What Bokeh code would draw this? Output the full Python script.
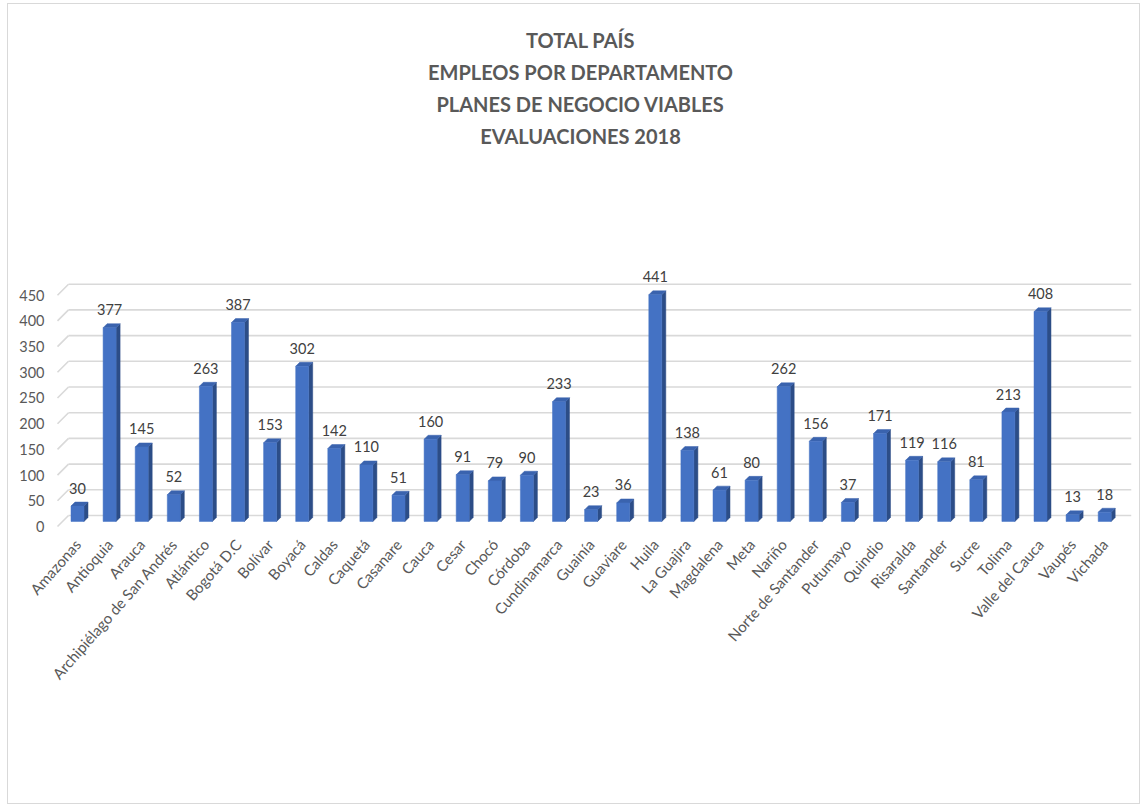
import math
from bokeh.plotting import figure
from bokeh.models import (ColumnDataSource, LinearAxis, FixedTicker, Range1d,
                          LabelSet, Title)
from bokeh.core.properties import value
from bokeh.embed import file_html
from bokeh.resources import INLINE

# ---------------- data ----------------
departments = [
    "Amazonas", "Antioquia", "Arauca", "Archipiélago de San Andrés", "Atlántico",
    "Bogotá D.C", "Bolívar", "Boyacá", "Caldas", "Caquetá", "Casanare", "Cauca",
    "Cesar", "Chocó", "Córdoba", "Cundinamarca", "Guainía", "Guaviare", "Huila",
    "La Guajira", "Magdalena", "Meta", "Nariño", "Norte de Santander", "Putumayo",
    "Quindio", "Risaralda", "Santander", "Sucre", "Tolima", "Valle del Cauca",
    "Vaupés", "Vichada",
]
employees = [30, 377, 145, 52, 263, 387, 153, 302, 142, 110, 51, 160, 91, 79, 90,
             233, 23, 36, 441, 138, 61, 80, 262, 156, 37, 171, 119, 116, 81, 213,
             408, 13, 18]
y_ticks = [0, 50, 100, 150, 200, 250, 300, 350, 400, 450]
title_lines = ["TOTAL PAÍS", "EMPLEOS POR DEPARTAMENTO",
               "PLANES DE NEGOCIO VIABLES", "EVALUACIONES 2018"]

# ---------------- geometry / style ----------------
PAGE_LEFT = 8            # figure origin on the page (after border)
FRAME_LEFT = 29          # page x of frame left (chosen so titles center at 580)
FRAME_RIGHT = 1131
FRAME_W = FRAME_RIGHT - FRAME_LEFT
FRAME_H = 377
PX_X = 32.1              # px per category
FIRST_CENTER = 77        # page x of first bar centre
X0 = (FRAME_LEFT - FIRST_CENTER) / PX_X
X1 = (FRAME_RIGHT - FIRST_CENTER) / PX_X
Y0, Y1 = -11.7, 721.8
px_y = FRAME_H / (Y1 - Y0)

BAR_W = 13 / PX_X
DX = 4 / PX_X
DY = 4 / px_y
GRID_BACK = 6 / px_y
GRID_FRONT = 5 / px_y
STUB_X = (57 - FIRST_CENTER) / PX_X
GRID_X = (68 - FIRST_CENTER) / PX_X

FRONT = "#4472C4"
SIDE = "#2C4D87"
TOP = "#3A63AE"
TXT = "#595959"
GRID = "#D9D9D9"
FONT = "Lato"

FIG_W, FIG_H = 1133, 801
MB_LEFT = FRAME_LEFT - PAGE_LEFT
MB_TOP = 146

idx = list(range(len(departments)))

p = figure(width=FIG_W, height=FIG_H, output_backend="svg", toolbar_location=None,
           x_range=Range1d(X0, X1), y_range=Range1d(Y0, Y1),
           x_axis_location=None, y_axis_location=None,
           min_border_left=MB_LEFT, min_border_right=FIG_W - MB_LEFT - FRAME_W,
           min_border_top=MB_TOP, min_border_bottom=FIG_H - MB_TOP - FRAME_H,
           background_fill_color="white", border_fill_color="white")
p.outline_line_color = None
p.xgrid.visible = False
p.ygrid.visible = False
p.styles = {"margin-left": "7px", "margin-top": "3px",
            "border": "1px solid #D9D9D9"}

# ---------------- gridlines (3D wall) ----------------
n = len(y_ticks)
p.segment(x0=[GRID_X] * n, y0=[t + GRID_BACK for t in y_ticks],
          x1=[X1] * n, y1=[t + GRID_BACK for t in y_ticks],
          line_color=GRID, line_width=1.6)
p.segment(x0=[STUB_X] * n, y0=[t - GRID_FRONT for t in y_ticks],
          x1=[GRID_X] * n, y1=[t + GRID_BACK for t in y_ticks],
          line_color=GRID, line_width=1.6)

# ---------------- 3D bars ----------------
side_xs, side_ys, top_xs, top_ys = [], [], [], []
for i, v in zip(idx, employees):
    r = i + BAR_W / 2
    l = i - BAR_W / 2
    side_xs.append([r, r + DX, r + DX, r])
    side_ys.append([0, DY, v + DY, v])
    top_xs.append([l, l + DX, r + DX, r])
    top_ys.append([v, v + DY, v + DY, v])

p.patches(side_xs, side_ys, fill_color=SIDE, line_color=SIDE, line_width=0.5)
p.patches(top_xs, top_ys, fill_color=TOP, line_color=TOP, line_width=0.5)

src = ColumnDataSource(dict(
    x=idx, top=employees, lbl_y=[v + DY for v in employees],
    txt=[str(v) for v in employees]))
p.vbar(x="x", top="top", bottom=0, width=BAR_W, source=src,
       fill_color=FRONT, line_color=FRONT, line_width=0.5)

labels = LabelSet(x="x", y="lbl_y", text="txt", source=src,
                  text_align="center", text_baseline="middle", y_offset=14,
                  text_font=value(FONT), text_font_size="14.5px",
                  text_color="#404040")
p.add_layout(labels)

# ---------------- axes ----------------
p.extra_y_ranges = {"lbl": Range1d(Y0 + GRID_FRONT, Y1 + GRID_FRONT)}
yax = LinearAxis(y_range_name="lbl", ticker=FixedTicker(ticks=y_ticks))
yax.axis_line_color = None
yax.major_tick_line_color = None
yax.minor_tick_line_color = None
yax.major_label_standoff = FRAME_LEFT - 50
yax.major_label_text_font = FONT
yax.major_label_text_font_size = "14.5px"
yax.major_label_text_color = TXT
p.add_layout(yax, "left")

xax = LinearAxis(ticker=FixedTicker(ticks=idx),
                 major_label_overrides={i: d for i, d in zip(idx, departments)})
xax.axis_line_color = None
xax.major_tick_line_color = None
xax.minor_tick_line_color = None
xax.major_label_standoff = 8
xax.major_label_orientation = 0.85
xax.major_label_text_font = FONT
xax.major_label_text_font_size = "15px"
xax.major_label_text_color = TXT
p.add_layout(xax, "below")

# ---------------- titles (added bottom-up) ----------------
for line in reversed(title_lines):
    t = Title(text=line, align="center", standoff=6,
              text_font=FONT, text_font_style="bold", text_font_size="20px",
              text_color=TXT)
    p.add_layout(t, "above")

open("out.html", "w").write(file_html(p, INLINE))
